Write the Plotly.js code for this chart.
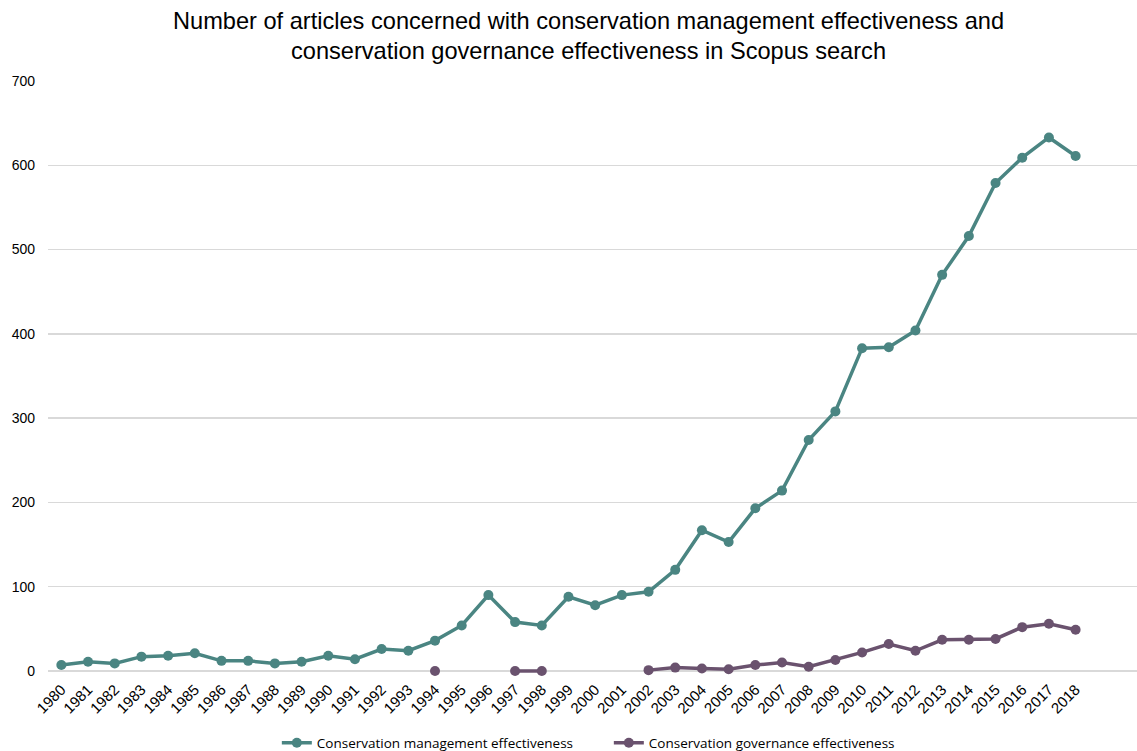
<!DOCTYPE html>
<html>
<head>
<meta charset="utf-8">
<script src="https://cdn.plot.ly/plotly-3.0.1.min.js"></script>
<style>html,body{margin:0;padding:0;background:#fff;}#chart{width:1137px;height:751px;}</style>
</head>
<body>
<div id="chart"></div>
<script>
const years = [1980,1981,1982,1983,1984,1985,1986,1987,1988,1989,1990,1991,1992,1993,1994,1995,1996,1997,1998,1999,2000,2001,2002,2003,2004,2005,2006,2007,2008,2009,2010,2011,2012,2013,2014,2015,2016,2017,2018];
const management = [7,11,9,17,18,21,12,12,9,11,18,14,26,24,36,54,90,58,54,88,78,90,94,120,167,153,193,214,274,308,383,384,404,470,516,579,609,633,611];
const governance = [null,null,null,null,null,null,null,null,null,null,null,null,null,null,0,null,null,0,0,null,null,null,1,4,3,2,7,10,5,13,22,32,24,37,37,38,52,56,49];
const seriesNames = ['Conservation management effectiveness','Conservation governance effectiveness'];
const yTicks = [0,100,200,300,400,500,600,700];

const traces = [
  {x: years, y: management, name: seriesNames[0], type: 'scatter', mode: 'lines+markers', cliponaxis: false,
   line: {color: '#4A8582', width: 3.5}, marker: {color: '#4A8582', size: 10}, connectgaps: false},
  {x: years, y: governance, name: seriesNames[1], type: 'scatter', mode: 'lines+markers', cliponaxis: false,
   line: {color: '#6A526E', width: 3.5}, marker: {color: '#6A526E', size: 10}, connectgaps: false}
];

const layout = {
  width: 1137, height: 751,
  margin: {l: 48, r: 0, t: 81, b: 78, autoexpand: false},
  paper_bgcolor: '#fff', plot_bgcolor: '#fff',
  title: {text: 'Number of articles concerned with conservation management effectiveness and<br>conservation governance effectiveness in Scopus search',
          font: {family: 'Liberation Sans, Arial, sans-serif', size: 23.6, color: '#000'},
          x: 0.5176, xanchor: 'center', y: 0.962, yanchor: 'middle'},
  xaxis: {range: [1979.5, 2020.3], tickmode: 'array', tickvals: years, ticktext: years.map(String),
          tickangle: -45, showgrid: false, zeroline: false, showline: false, ticks: '', automargin: false,
          ticklabelstandoff: 4,
          tickfont: {family: 'Liberation Sans, Arial, sans-serif', size: 15, color: '#000'}},
  yaxis: {range: [-2.4, 700], tickmode: 'array', tickvals: yTicks, showgrid: true, gridcolor: '#d9d9d9', gridwidth: 1.3,
          zeroline: false, showline: false, ticks: '', ticklabelstandoff: 12, automargin: false,
          tickfont: {family: 'Liberation Sans, Arial, sans-serif', size: 14, color: '#000'}},
  showlegend: true,
  legend: {orientation: 'h', x: 0.515, xanchor: 'center', yref: 'container', y: 0.0107, yanchor: 'middle',
           entrywidth: 287,
           font: {family: 'Open Sans, sans-serif', size: 13.5, color: '#000'}, itemwidth: 30, tracegroupgap: 0}
};

Plotly.newPlot('chart', traces, layout, {displayModeBar: false, staticPlot: true});
</script>
</body>
</html>
